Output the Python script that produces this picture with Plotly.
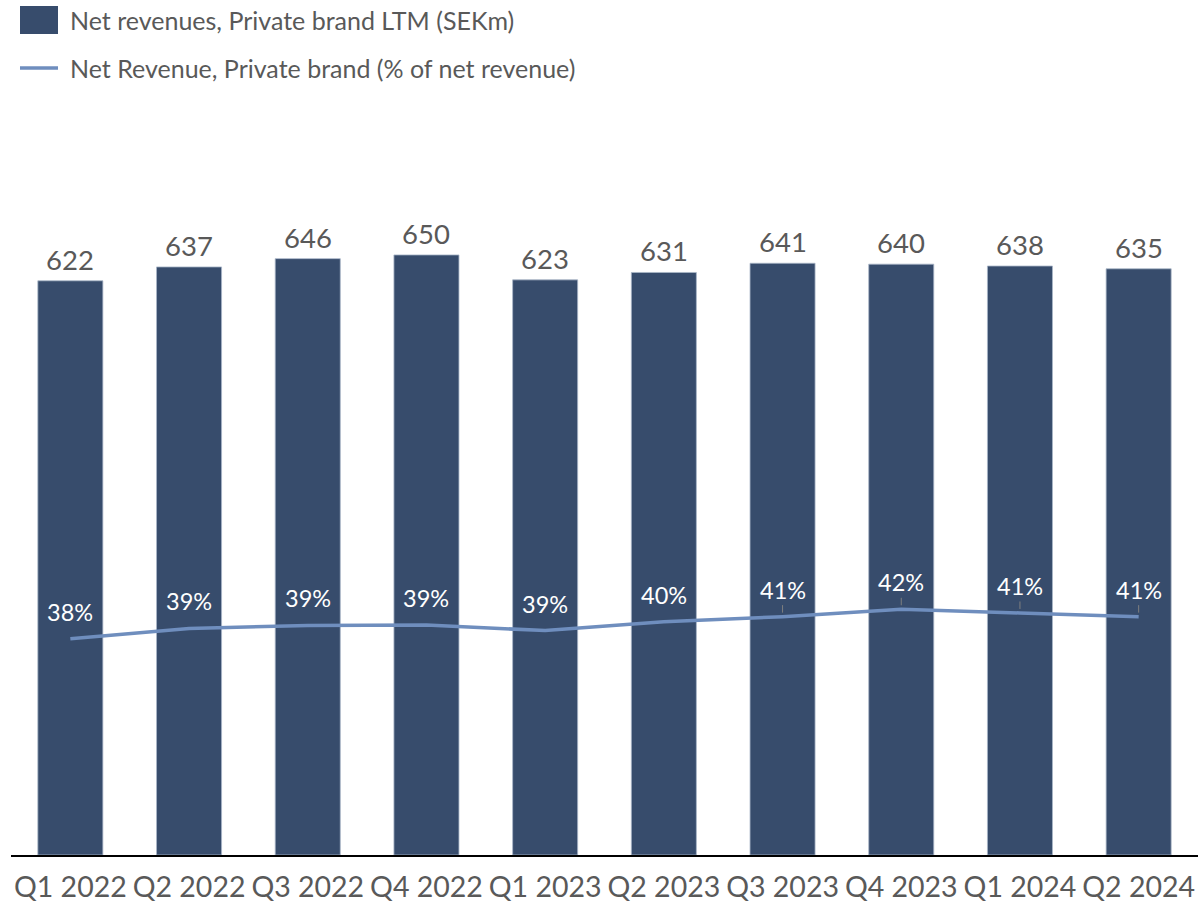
import plotly.graph_objects as go

# Quarterly data
quarters = ["Q1 2022", "Q2 2022", "Q3 2022", "Q4 2022", "Q1 2023",
            "Q2 2023", "Q3 2023", "Q4 2023", "Q1 2024", "Q2 2024"]
net_rev_ltm = [622, 637, 646, 650, 623, 631, 641, 640, 638, 635]          # SEKm
private_share = [37.6, 39.0, 39.4, 39.45, 38.7, 39.9, 40.6, 41.6, 41.1, 40.6]  # % of net revenue

bar_name = "Net revenues, Private brand LTM (SEKm)"
line_name = "Net Revenue, Private brand (% of net revenue)"

BAR_COLOR = "#374C6C"
LINE_COLOR = "#6F8EBE"
TEXT_GREY = "#595959"
FONT = "Lato, 'Open Sans', sans-serif"

fig = go.Figure()

fig.add_trace(go.Bar(
    x=quarters, y=net_rev_ltm, name=bar_name,
    marker=dict(color=BAR_COLOR, line=dict(color="#A9B6C8", width=0.8)),
    showlegend=False,
))

fig.add_trace(go.Scatter(
    x=quarters, y=private_share, name=line_name, yaxis="y2",
    mode="lines", line=dict(color=LINE_COLOR, width=3.5),
    showlegend=False,
))

annotations = []

# Value labels on top of the bars
for q, v in zip(quarters, net_rev_ltm):
    annotations.append(dict(
        x=q, y=v, xref="x", yref="y", yanchor="bottom", yshift=3,
        text=f"{v:.0f}", showarrow=False,
        font=dict(size=27.5, color=TEXT_GREY, family=FONT),
    ))

# Percentage labels above the line, with short leader lines on the later points
for i, (q, v) in enumerate(zip(quarters, private_share)):
    annotations.append(dict(
        x=q, y=v, xref="x", yref="y2",
        text=f"{v:.0f}%", showarrow=True,
        ax=0, ay=-27, arrowhead=0, arrowwidth=1, standoff=4,
        arrowcolor="#7F7F7F" if i >= 6 else "rgba(0,0,0,0)",
        font=dict(size=23.5, color="white", family=FONT),
    ))

# Legend drawn by hand so the swatches are full size
shapes = [
    dict(type="rect", xref="paper", yref="paper",
         x0=(20 - 11) / 1187, x1=(58 - 11) / 1187,
         y0=(855 - 34) / 745, y1=(855 - 6) / 745,
         fillcolor=BAR_COLOR, line=dict(width=0)),
    dict(type="line", xref="paper", yref="paper",
         x0=(20 - 11) / 1187, x1=(58 - 11) / 1187,
         y0=(855 - 68) / 745, y1=(855 - 68) / 745,
         line=dict(color=LINE_COLOR, width=3.5)),
]
for label, ypix in [(bar_name, 20), (line_name, 68)]:
    annotations.append(dict(
        xref="paper", yref="paper",
        x=(68 - 11) / 1187, y=(855 - ypix) / 745,
        xanchor="left", yanchor="middle", showarrow=False,
        text=label, font=dict(size=25, color=TEXT_GREY, family=FONT),
    ))

fig.update_layout(
    width=1201, height=906,
    margin=dict(l=11, r=3, t=110, b=51),
    paper_bgcolor="white", plot_bgcolor="white",
    bargap=0.452,
    font=dict(family=FONT, color=TEXT_GREY),
    xaxis=dict(
        showgrid=False, showline=True, linecolor="black", linewidth=2,
        ticks="", tickfont=dict(size=28.5, color=TEXT_GREY, family=FONT),
        ticklabelstandoff=6,
    ),
    yaxis=dict(range=[0, 807], visible=False, showgrid=False),
    yaxis2=dict(range=[8.17, 109.53], overlaying="y", visible=False, showgrid=False),
    shapes=shapes,
    annotations=annotations,
)

fig.write_html("out.html")
